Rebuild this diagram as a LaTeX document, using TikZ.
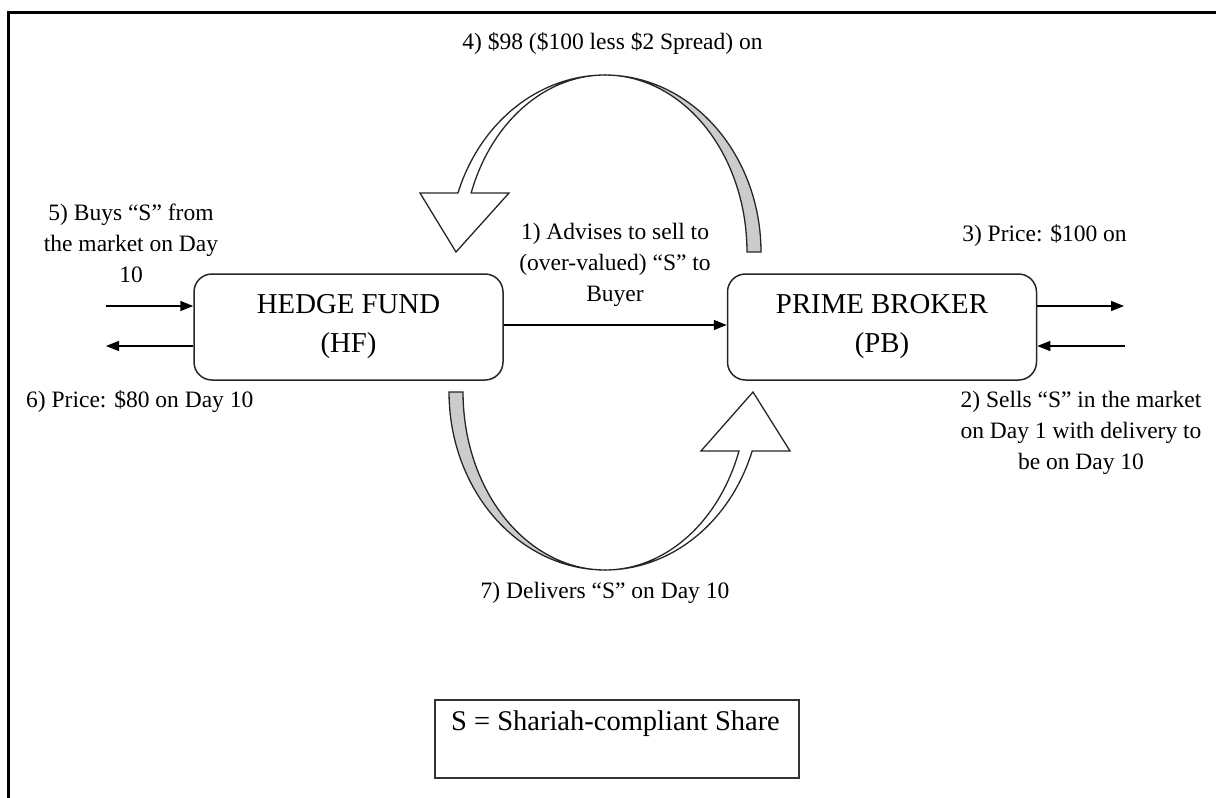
\documentclass[tikz,border=0pt]{standalone}
\usepackage{fontspec}
\setmainfont{Liberation Serif}
\usetikzlibrary{arrows.meta}
\begin{document}
\begin{tikzpicture}[x=1pt,y=-1pt,
  lbl/.style={inner sep=0pt, align=center, font=\fontsize{23.5}{31}\selectfont},
  party/.style={draw=black!85, line width=1.5pt, rounded corners=18pt,
    minimum width=309pt, minimum height=106pt, inner sep=0pt, align=center,
    font=\fontsize{28.8}{39}\selectfont},
  legendbox/.style={draw=black!80, line width=1.8pt, minimum width=364pt,
    minimum height=78pt, inner sep=0pt, anchor=north west},
  arr/.style={line width=1.5pt, -{Triangle[length=13pt,width=10pt]}},
  band/.style={draw=black!85, line width=1.3pt, line join=miter},
  front/.style={band, fill=white},
  back/.style={band, fill=black!20}]
\useasboundingbox (0,0) rectangle (1216,798);

% page frame (top and left edges only)
\draw[line width=3pt] (8,798) -- (8,12) -- (1216,12);

% the two parties
\node[party] (hf) at (348.5,327) {HEDGE FUND\\(HF)};
\node[party] (pb) at (882,327) {PRIME BROKER\\(PB)};

% advice from HF to PB
\draw[arr] ([yshift=2pt]hf.east) -- ([yshift=2pt]pb.west);
\node[lbl] (l1) at (615,265) {1) Advises to sell to\\(over-valued) “S” to\\Buyer};

% market legs on the left
\coordinate (inL) at (106,306);
\coordinate (outL) at (106,346);
\draw[arr] (inL) -- (hf.west |- inL);
\draw[arr] (hf.west |- outL) -- (outL);
\node[lbl] (l5) at (131,243) {5) Buys “S” from\\the market on Day\\10};
\node[lbl, anchor=west] (l6) at (26,402) {6) Price: \$80 on Day 10};

% market legs on the right
\coordinate (outR) at (1124,306);
\coordinate (inR) at (1125,346);
\draw[arr] (pb.east |- outR) -- (outR);
\draw[arr] (inR) -- (pb.east |- inR);
\node[lbl] (l3) at (1044.5,235) {3) Price: \$100 on};
\node[lbl] (l2) at (1081,433) {2) Sells “S” in the market\\on Day 1 with delivery to\\be on Day 10};

% curved block arrow over the top: PB back to HF
\draw[back] (761,252)
  -- plot[domain=0:-90, samples=40] ({605+156*cos(\x)},{252+177*sin(\x)})
  -- plot[domain=-90:0, samples=40] ({605+142*cos(\x)},{252+177*sin(\x)})
  -- cycle;
\draw[front] (605,75)
  -- plot[domain=270:199.47, samples=40] ({605+156*cos(\x)},{252+177*sin(\x)})
  -- (420,193) -- (456,252) -- (509,193)
  -- plot[domain=199.47:270, samples=40] ({605+142*cos(\x)},{252+177*sin(\x)})
  -- cycle;
\node[lbl] (l4) at (612.5,43) {4) \$98 (\$100 less \$2 Spread) on};

% curved block arrow underneath: HF to PB
\draw[back] (449,392)
  -- plot[domain=180:90, samples=40] ({605+156*cos(\x)},{392+178*sin(\x)})
  -- plot[domain=90:180, samples=40] ({605+142*cos(\x)},{392+178*sin(\x)})
  -- cycle;
\draw[front] (605,570)
  -- plot[domain=90:19.36, samples=40] ({605+156*cos(\x)},{392+178*sin(\x)})
  -- (790,451) -- (753,392) -- (701,451)
  -- plot[domain=19.36:90, samples=40] ({605+142*cos(\x)},{392+178*sin(\x)})
  -- cycle;
\node[lbl] (l7) at (605,593) {7) Delivers “S” on Day 10};

% legend
\node[legendbox] (legend) at (434,699) {};
\node[inner sep=0pt, font=\fontsize{28.5}{34}\selectfont] (legendtext) at (615.5,724) {S = Shariah-compliant Share};

\end{tikzpicture}
\end{document}
